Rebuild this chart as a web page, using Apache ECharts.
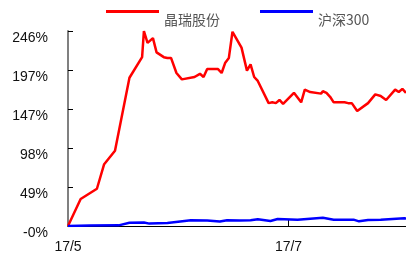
<!DOCTYPE html>
<html>
<head>
<meta charset="utf-8">
<script src="https://cdn.jsdelivr.net/npm/echarts@6/dist/echarts.min.js"></script>
<style>
  html, body { margin: 0; padding: 0; background: #fff; }
  #chart { width: 406px; height: 254px; }
</style>
</head>
<body>
<div id="chart"></div>
<script>
// x = days since 2017-05-01, y = cumulative return (%)
const redDays = [0, 3.5, 8, 10, 13, 17, 20.5, 21, 22, 23.5, 24.5, 26.5, 27.5, 28.5, 30, 31.5, 35, 36.5, 37.5, 38.5,
  41.5, 42.5, 43.5, 44.5, 45.5, 48, 49.5, 50.5, 51.5, 52.5, 55.5, 56.5, 57.5, 58.5, 59.5, 62.5, 64.5, 65.5, 67,
  70, 70.5, 71.5, 72.5, 73.5, 76.5, 77.5, 78.5, 80, 80.5, 83, 85, 85.5, 86.5, 88, 90.5, 91.5, 92.5, 93.5]
const redVals = [0, 34, 47, 78, 95, 187, 213, 246, 231, 237, 219, 213, 212, 212, 193, 185, 188, 192, 188, 198,
  198, 193, 206, 212, 245, 225, 196, 204, 188, 183, 155, 156, 155, 159, 154, 168, 156, 172, 169,
  167, 170, 168, 163, 156, 156, 155, 155, 145, 145, 155, 166, 166, 164, 159, 172, 169, 173, 168]

const blueDays = [0, 6, 14, 17, 21, 22.5, 27.5, 34, 38.5, 42, 44, 47.5, 50.5, 52.5, 56, 58, 63.5, 70.5, 73.5,
  79, 80.5, 83, 86.5, 93, 93.5]
const blueVals = [0, 0.6, 0.8, 4.0, 4.4, 3.0, 3.8, 7.4, 6.9, 5.6, 7.2, 6.9, 7.2, 8.5, 6.4, 8.8, 8.0, 10.4, 8.0,
  8.0, 5.9, 7.5, 8.0, 9.7, 9.5]

const xTickDays = [0, 61]
const xTickLabels = ['17/5', '17/7']
const yTickLabels = ['-0%', '49%', '98%', '147%', '197%', '246%']
const yStep = 49.2

const chart = echarts.init(document.getElementById('chart'))

const option = {
  animation: false,
  grid: { left: 68, right: 0, top: 31, bottom: 28 },
  legend: {
    left: 106,
    top: 10,
    padding: 0,
    icon: 'rect',
    itemWidth: 53,
    itemHeight: 3,
    itemGap: 40,
    formatter: '{t|{name}}',
    textStyle: {
      rich: {
        t: {
          fontSize: 14,
          color: '#555',
          fontFamily: 'Noto Sans CJK SC',
          padding: [16, 0, 0, 0]
        }
      }
    }
  },
  xAxis: {
    type: 'value',
    min: 0,
    max: 93.5,
    splitLine: { show: false },
    axisLine: { lineStyle: { color: '#000', width: 1 } },
    axisTick: {
      inside: true,
      length: 6,
      customValues: [xTickDays[1]],
      lineStyle: { color: '#000' }
    },
    axisLabel: {
      customValues: xTickDays,
      margin: 14,
      fontSize: 14,
      color: '#111',
      fontFamily: 'Liberation Sans',
      formatter: v => xTickLabels[xTickDays.indexOf(v)] || ''
    }
  },
  yAxis: {
    type: 'value',
    min: 0,
    max: 246,
    interval: yStep,
    splitLine: { show: false },
    axisLine: { show: true, lineStyle: { color: '#808080', width: 2 } },
    axisTick: { show: true, inside: true, length: 5, lineStyle: { color: '#000' } },
    axisLabel: {
      margin: 20,
      fontSize: 14,
      color: '#111',
      fontFamily: 'Liberation Sans',
      verticalAlign: 'top',
      formatter: v => yTickLabels[Math.round(v / yStep)]
    }
  },
  series: [
    {
      name: '晶瑞股份',
      type: 'line',
      showSymbol: false,
      color: '#ff0000',
      lineStyle: { width: 2.5, color: '#ff0000' },
      data: redDays.map((d, i) => [d, redVals[i]])
    },
    {
      name: '沪深300',
      type: 'line',
      showSymbol: false,
      color: '#0000ff',
      lineStyle: { width: 2.5, color: '#0000ff' },
      data: blueDays.map((d, i) => [d, blueVals[i]])
    }
  ]
}

chart.setOption(option)
</script>
</body>
</html>
